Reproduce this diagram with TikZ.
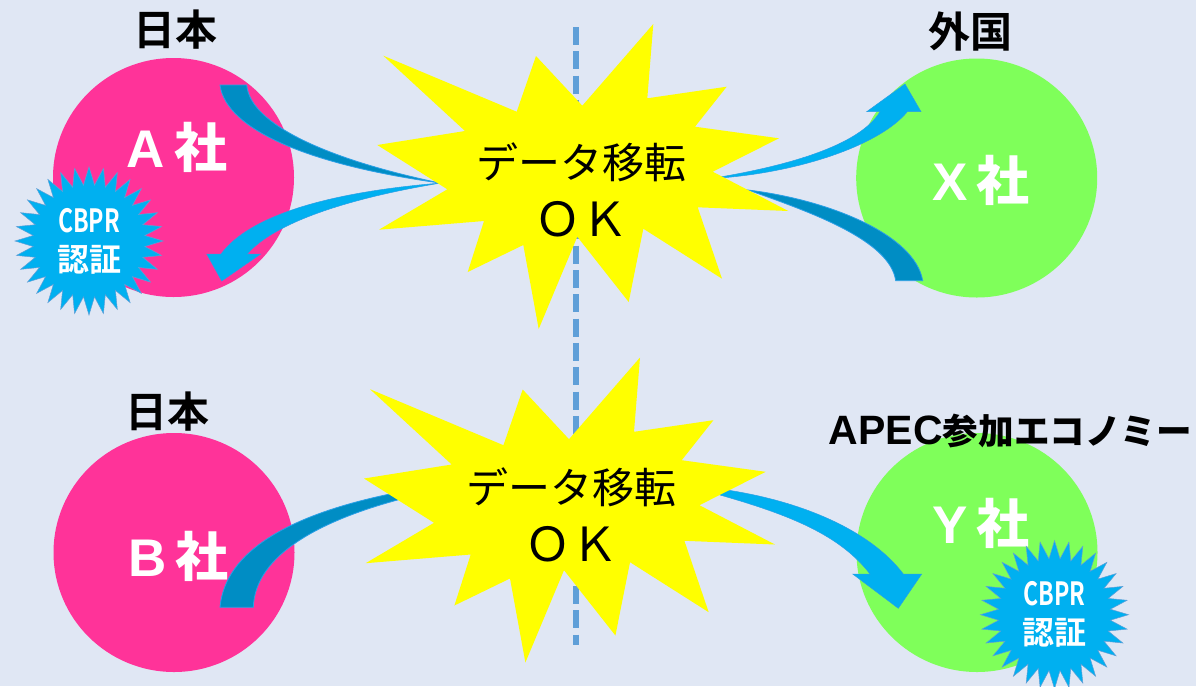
\documentclass[tikz,border=0pt]{standalone}
\usepackage{graphicx}
\usepackage{fontspec}
\setmainfont{Liberation Sans}
\newfontfamily\cjkreg{Noto Sans CJK JP}
\newfontfamily\cjkbold{Noto Sans CJK JP Bold}
\usetikzlibrary{shapes.geometric}

\definecolor{pagebg}{HTML}{E0E7F4}
\definecolor{firmpink}{HTML}{FF3399}
\definecolor{firmgreen}{HTML}{7FFF5A}
\definecolor{burstyellow}{HTML}{FFFF00}
\definecolor{arrowlight}{HTML}{00B0F0}
\definecolor{arrowdark}{HTML}{008DC4}
\definecolor{arrowedge}{HTML}{2A9FE6}
\definecolor{borderline}{HTML}{5F9FD8}

\tikzset{
  firm/.style={ellipse,minimum width=241pt,minimum height=239pt,inner sep=0pt,fill=#1},
  firmname/.style={inner sep=0pt,text=white,font=\bfseries\fontsize{53}{60}\selectfont},
  region/.style={inner sep=0pt,text=black,font=\cjkbold\fontsize{42}{46}\selectfont},
  okburst/.style={fill=burstyellow},
  oklabel/.style={inner sep=0pt,align=center,text=black,font=\cjkreg\fontsize{42}{58}\selectfont},
  cbprseal/.style={star,star points=32,star point ratio=1.32,minimum size=148pt,inner sep=0pt,
    fill=arrowlight,draw=borderline,line width=0.5pt,align=center,text=white,
    font=\cjkbold\fontsize{32}{39}\selectfont},
  outflow/.style={fill=arrowlight,draw=arrowedge,line width=0.5pt},
  inflow/.style={fill=arrowdark,draw=arrowedge,line width=0.8pt},
}

\begin{document}
\begin{tikzpicture}[x=1pt,y=-1pt]
\fill[pagebg] (0,0) rectangle (1196,686);
\useasboundingbox (0,0) rectangle (1196,686);

% firms
\node[firm=firmpink] (firmA) at (173.5,177.5) {};
\node[firm=firmgreen] (firmX) at (976.7,178) {};
\node[firm=firmpink] (firmB) at (174,552.5) {};
\node[firm=firmgreen] (firmY) at (977,552.5) {};

% border between the countries
\draw[borderline,line width=6pt,dash pattern=on 18pt off 6.3pt] (576,27)--(576,645);

% flows, upper row
\draw[inflow] (220,85) .. controls (226,130) and (310,165) .. (440,183)
  .. controls (330,160) and (250,125) .. (246.7,85) -- cycle;
\draw[outflow] (441,183) .. controls (330,192) and (250,215) .. (221,254)
  -- (206.7,254) -- (221.7,281) -- (260.7,254) -- (247.3,254)
  .. controls (275,222) and (350,198) .. (441,183) -- cycle;
\draw[outflow] (720,177) .. controls (790,165) and (860,145) .. (880,111.7)
  -- (866.7,111.7) -- (905,84) -- (921,111.7) -- (907.3,111.7)
  .. controls (880,145) and (800,172) .. (720,178) -- cycle;
\draw[inflow] (748,190) .. controls (830,200) and (915,235) .. (922.7,280.7)
  -- (895.7,280.7) .. controls (890,240) and (810,212) .. (748,190) -- cycle;

% flows, lower row
\draw[inflow] (220,607.3) .. controls (225,552) and (288,513) .. (405,491)
  -- (405,498) .. controls (320,520) and (255,555) .. (253.3,607.3) -- cycle;
\draw[outflow] (720,489) .. controls (800,500) and (870,530) .. (903.3,574)
  -- (921.7,574) -- (898.3,608.3) -- (852.7,574) -- (870,574)
  .. controls (840,535) and (790,515) .. (720,495) -- cycle;

% bursts
\foreach \sx/\sy in {0/0,-13.3/333.5}
  \fill[okburst,shift={(\sx,\sy)}] (383.3,55.7)--(516.7,111.7)--(536,56)--(582.3,105.7)
    --(653.3,24)--(647.3,98.3)--(726.7,86.7)--(695,126.7)--(779,138.3)--(712.7,171.7)
    --(788.3,211)--(697.7,207.3)--(722,278.7)--(643.3,228.7)--(628.7,302)--(577.3,236.7)
    --(538.7,329)--(523.3,245)--(467.7,272)--(484,221)--(379,229.7)--(447.3,189.3)
    --(377.3,145)--(465,131)--cycle;

\node[oklabel] (okTop) at (581,190) {データ移転\\{\fontsize{47}{58}\selectfont ＯＫ}};
\node[oklabel] (okBottom) at (571,515) {データ移転\\{\fontsize{47}{58}\selectfont ＯＫ}};

% labels
\node[region] (japanTop) at (175,30) {日本};
\node[region] (abroad) at (970,31) {外国};
\node[region] (japanBottom) at (167,412) {日本};
\node[inner sep=0pt,text=black,font=\bfseries\fontsize{41}{44}\selectfont] (apec) at (1010.5,431)
  {APEC{\cjkbold\fontsize{35.6}{44}\selectfont 参加エコノミー}};

\node[firmname] (nameA) at (177,147) {A\,{\cjkbold 社}};
\node[firmname] (nameX) at (981,180) {X\,{\cjkbold 社}};
\node[firmname] (nameB) at (178.5,556) {B\,{\cjkbold 社}};
\node[firmname] (nameY) at (981,523) {Y\,{\cjkbold 社}};

% seals
\node[cbprseal] (sealA) at (89,241) {\scalebox{0.72}[1]{CBPR}\\認証};
\node[cbprseal] (sealY) at (1054.5,614.7) {\scalebox{0.72}[1]{CBPR}\\認証};

\end{tikzpicture}
\end{document}
